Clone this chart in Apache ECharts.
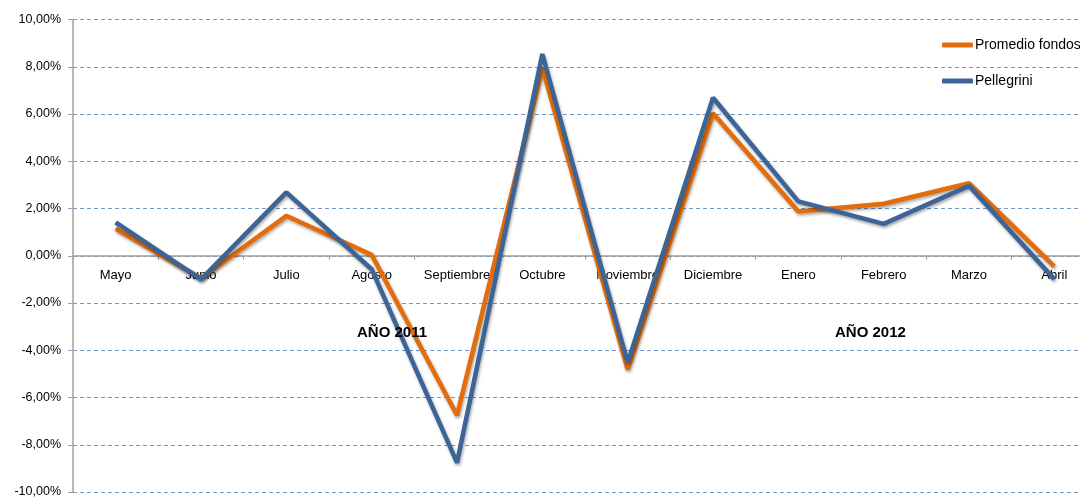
<!DOCTYPE html>
<html><head><meta charset="utf-8">
<script src="https://cdn.jsdelivr.net/npm/echarts@6/dist/echarts.min.js"></script>
<style>html,body{margin:0;padding:0;background:#fff}#c{width:1080px;height:497px}</style>
</head><body><div id="c"></div>
<script>
const categories = ['Mayo','Junio','Julio','Agosto','Septiembre','Octubre','Noviembre','Diciembre','Enero','Febrero','Marzo','Abril'];
const promedioFondos = [1.14, -0.95, 1.69, 0.04, -6.75, 7.95, -4.82, 6.03, 1.87, 2.2, 3.07, -0.45];
const pellegrini = [1.41, -1.0, 2.68, -0.57, -8.76, 8.54, -4.53, 6.69, 2.3, 1.35, 2.96, -0.99];
const yTicks = {min: -10, max: 10, interval: 2};
const annotations = ['AÑO 2011', 'AÑO 2012'];

const font = 'Liberation Sans';
const chart = echarts.init(document.getElementById('c'));
const lineCommon = {
  type: 'line', symbol: 'none', smooth: false,
};
const gridTop = 19.5, gridBottom = 5, H = 497;
const plotH = H - gridTop - gridBottom;
const zeroOffset = -plotH * (0 - yTicks.min) / (yTicks.max - yTicks.min);
chart.setOption({
  animation: false,
  backgroundColor: '#fff',
  grid: {left: 73, right: -17, top: gridTop, bottom: gridBottom, containLabel: false, outerBoundsMode: 'none'},
  legend: {
    orient: 'vertical', left: 937, top: 33, itemGap: 22,
    itemWidth: 31, itemHeight: 5, icon: 'roundRect',
    textStyle: {fontFamily: font, fontSize: 14, color: '#000', padding: [0,0,0,-3]},
    data: ['Promedio fondos', 'Pellegrini']
  },
  xAxis: {
    type: 'category', data: categories, boundaryGap: true, position: 'bottom', offset: zeroOffset,
    axisLine: {onZero: false, lineStyle: {color: '#a0a0a0', width: 1.5}},
    axisTick: {show: true, length: 4, lineStyle: {color: '#a0a0a0'}},
    axisLabel: {fontFamily: font, fontSize: 13, color: '#000', margin: 13, interval: 0},
    splitLine: {show: false}
  },
  yAxis: {
    type: 'value', min: yTicks.min, max: yTicks.max, interval: yTicks.interval,
    axisLine: {show: true, lineStyle: {color: '#a0a0a0', width: 1.5}},
    axisTick: {show: true, length: 5, lineStyle: {color: '#a0a0a0'}},
    axisLabel: {fontFamily: font, fontSize: 12.5, color: '#000', margin: 12,
      formatter: v => v.toFixed(2).replace('.', ',') + '%'},
    splitLine: {show: true, lineStyle: {color: '#6f97cc', type: [4, 3], width: 1}}
  },
  graphic: [
    {type: 'text', left: 357, top: 325, z: 100, style: {text: annotations[0], font: 'bold 15px ' + font, fill: '#000'}},
    {type: 'text', left: 835, top: 325, z: 100, style: {text: annotations[1], font: 'bold 15px ' + font, fill: '#000'}}
  ],
  series: [
    Object.assign({}, lineCommon, {
      name: 'Promedio fondos', data: promedioFondos, color: '#e46c0a',
      lineStyle: {width: 4.5, color: '#e46c0a', shadowColor: 'rgba(0,0,0,0.35)', shadowBlur: 3, shadowOffsetY: 2, shadowOffsetX: 1}
    }),
    Object.assign({}, lineCommon, {
      name: 'Pellegrini', data: pellegrini, color: '#3c6496',
      lineStyle: {width: 4.5, color: '#3c6496', shadowColor: 'rgba(0,0,0,0.35)', shadowBlur: 3, shadowOffsetY: 2, shadowOffsetX: 1}
    })
  ]
});
</script></body></html>
